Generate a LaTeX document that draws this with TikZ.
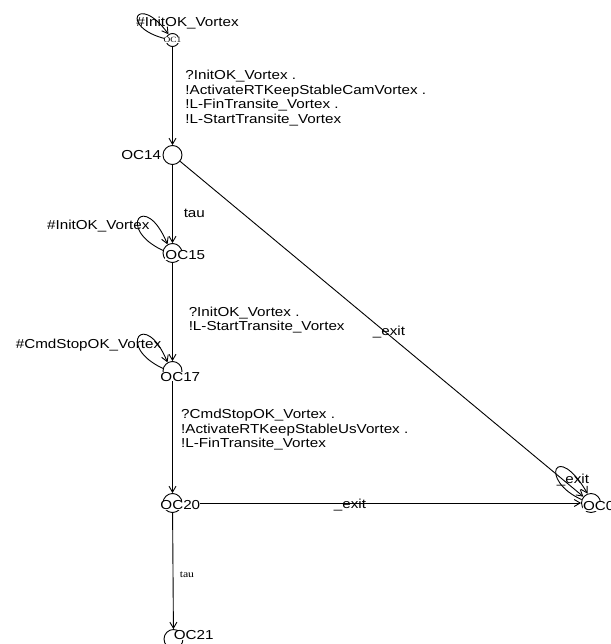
\documentclass[tikz,border=0pt]{standalone}
\usepackage{fontspec}
\setmainfont{Liberation Sans}[FakeStretch=1.17]
\newfontfamily\smallserif{Liberation Serif}[FakeStretch=1.17]
\usetikzlibrary{arrows.meta}
\begin{document}
\begin{tikzpicture}[x=1pt,y=-1pt, line width=0.9pt,
  >={Straight Barb[length=6pt,width=7pt]},
  state/.style={circle,draw,minimum size=19pt,inner sep=0pt},
  slabel/.style={font=\fontsize{13}{14}\selectfont, fill=white, inner sep=0pt},
  elabel/.style={font=\fontsize{13}{14.5}\selectfont, inner sep=0pt},
  mlabel/.style={font=\fontsize{13}{14.6}\selectfont, align=left, inner sep=0pt, anchor=north west},
]
\useasboundingbox (0,0) rectangle (610,644);

% states
\node[state, minimum size=13pt] (oc1) at (172.5,40) {};
\node[state] (oc14) at (172.5,155) {};
\node[state] (oc15) at (172.5,253) {};
\node[state] (oc17) at (172.5,371) {};
\node[state] (oc20) at (172.5,503) {};
\node[state] (oc0) at (591,503) {};
\node[state] (oc21) at (173.5,639) {};

% edges
\draw[->] (oc1) -- (oc14);
\draw[->] (oc14) -- (oc15);
\draw[->] (oc15) -- (oc17);
\draw[->] (oc17) -- (oc20);
\draw[->] (oc20) -- (oc21);
\draw[->] (oc20) -- (oc0);
\draw[->] (oc14) -- (oc0);

% self loops
\draw[->] (oc1.170) .. controls (118,27) and (138,-8) .. (oc1.125);
\draw[->] (oc15.165) .. controls (115,228) and (145,190) .. (oc15.120);
\draw[->] (oc17.165) .. controls (115,346) and (145,308) .. (oc17.120);
\draw[->] (oc0.160) .. controls (538,480) and (556,440) .. (oc0.110);

% state labels
\node[font=\smallserif\fontsize{8}{9}\selectfont, fill=white, inner sep=0pt] (t1) at (172.5,40) {OC1};
\node[slabel, fill=none, anchor=base east] (t14) at (161.5,159.6) {OC14};
\node[slabel, anchor=base west] (t15) at (165,259.7) {OC15};
\node[slabel, anchor=base west] (t17) at (160,381.3) {OC17};
\node[slabel, anchor=base west] (t20) at (160,509.6) {OC20};
\node[slabel, anchor=base west] (t0) at (582.7,510.6) {OC0};
\node[slabel, anchor=base west] (t21) at (173.3,639.6) {OC21};

% edge labels
\node[elabel, anchor=base west] (l1) at (136,26.6) {\#InitOK\_Vortex};
\node[mlabel] (l2) at (185,69.8) {?InitOK\_Vortex .\\!ActivateRTKeepStableCamVortex .\\!L-FinTransite\_Vortex .\\!L-StartTransite\_Vortex};
\node[elabel, anchor=base west] (l3) at (183.3,218) {tau};
\node[elabel, anchor=base west] (l4) at (46.7,229.6) {\#InitOK\_Vortex};
\node[mlabel, font=\fontsize{13}{14}\selectfont] (l5) at (188.3,306.5) {?InitOK\_Vortex .\\!L-StartTransite\_Vortex};
\node[elabel, anchor=base east] (l6) at (161.7,348) {\#CmdStopOK\_Vortex};
\node[mlabel] (l7) at (180.7,408.8) {?CmdStopOK\_Vortex .\\!ActivateRTKeepStableUsVortex .\\!L-FinTransite\_Vortex};
\node[elabel, anchor=base] (l8) at (350,508) {\_exit};
\node[elabel, anchor=base] (l9) at (389,335) {\_exit};
\node[elabel, anchor=base west] (l10) at (556.5,483) {\_exit};
\node[font=\smallserif\fontsize{10}{11}\selectfont, inner sep=0pt, anchor=base west] (l11) at (179.3,577.3) {tau};
\end{tikzpicture}
\end{document}
